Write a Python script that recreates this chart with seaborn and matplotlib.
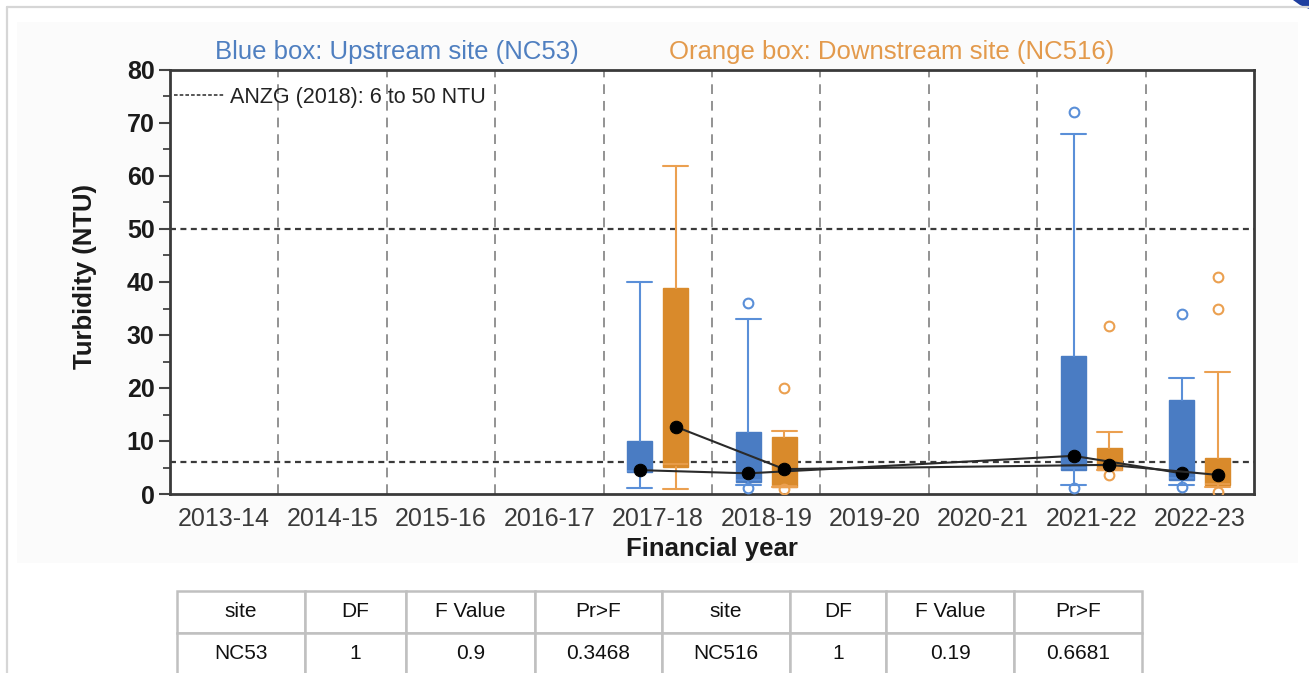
import matplotlib
matplotlib.use("Agg")
import matplotlib.pyplot as plt
import seaborn as sns
import numpy as np
import pandas as pd
from matplotlib.lines import Line2D
from matplotlib.patches import Rectangle, Polygon

# ---- data -------------------------------------------------------------
years = ["2013-14", "2014-15", "2015-16", "2016-17", "2017-18",
         "2018-19", "2019-20", "2020-21", "2021-22", "2022-23"]
sampled_years = ["2017-18", "2018-19", "2021-22", "2022-23"]

# Upstream site NC53 (blue)
nc53_whislo = [1.2, 1.7, 1.7, 1.7]
nc53_q1 = [4.2, 2.3, 4.5, 2.6]
nc53_med = [4.3, 2.6, 4.9, 3.0]
nc53_q3 = [10.0, 11.7, 26.0, 17.8]
nc53_whishi = [40.0, 33.0, 68.0, 21.9]
nc53_mean = [4.5, 3.9, 7.2, 3.9]
nc53_fliers = [[], [36.0, 1.2], [72.0, 1.2], [34.0, 1.4]]

# Downstream site NC516 (orange)
nc516_whislo = [1.0, 1.3, 4.5, 1.3]
nc516_q1 = [5.1, 1.3, 4.5, 1.7]
nc516_med = [5.6, 1.6, 4.9, 1.9]
nc516_q3 = [38.9, 10.8, 8.7, 6.8]
nc516_whishi = [61.9, 11.8, 11.7, 23.0]
nc516_mean = [12.7, 4.7, 5.5, 3.6]
nc516_fliers = [[], [20.0, 1.0], [31.7, 3.6], [41.0, 35.0, 0.3]]

guideline_low = 6
guideline_high = 50

table_header = ["site", "DF", "F Value", "Pr>F", "site", "DF", "F Value", "Pr>F"]
table_row = ["NC53", "1", "0.9", "0.3468", "NC516", "1", "0.19", "0.6681"]

# ---- style ------------------------------------------------------------
sns.set_theme(style="white")
plt.rcParams["font.family"] = ["Liberation Sans", "DejaVu Sans"]
plt.rcParams["lines.scale_dashes"] = False

BLUE_FILL = "#4a7cc3"
BLUE_LINE = "#5a8fd8"
ORANGE_FILL = "#d98a2b"
ORANGE_LINE = "#eba050"
W, H = 1309, 673

fig = plt.figure(figsize=(W / 100, H / 100), dpi=100)
fig.patch.set_facecolor("white")

# page decoration: light panel, frame lines and corner tab
fig.patches.append(Rectangle((17 / W, 1 - 563 / H), (1298 - 17) / W, (563 - 22) / H,
                             transform=fig.transFigure, facecolor="#fbfbfb",
                             edgecolor="none", zorder=-10))
fig.lines.append(Line2D([7 / W, 1], [1 - 7 / H, 1 - 7 / H], transform=fig.transFigure,
                        color="#d6d6d6", lw=1.6))
fig.lines.append(Line2D([7 / W, 7 / W], [0, 1 - 7 / H], transform=fig.transFigure,
                        color="#d6d6d6", lw=1.6))
fig.patches.append(Polygon([(1293 / W, 1), (1, 1), (1, 1 - 9 / H), (1300 / W, 1 - 5 / H)],
                           closed=True, transform=fig.transFigure,
                           facecolor="#1f3f9f", edgecolor="none"))

ax = fig.add_axes([170 / W, 1 - 494 / H, (1254 - 170) / W, (494 - 70) / H])
ax.set_facecolor("white")

idx = {y: i for i, y in enumerate(years)}
blue_pos = [idx[y] - 0.165 for y in sampled_years]
orange_pos = [idx[y] + 0.165 for y in sampled_years]


def make_stats(lo, q1, med, q3, hi, mean, fliers):
    return [dict(whislo=a, q1=b, med=c, q3=d, whishi=e, mean=f, fliers=g)
            for a, b, c, d, e, f, g in zip(lo, q1, med, q3, hi, mean, fliers)]


def draw_boxes(stats, pos, fill, line):
    ax.bxp(stats, positions=pos, widths=0.23, capwidths=0.23, patch_artist=True,
           manage_ticks=False, showmeans=False,
           boxprops=dict(facecolor=fill, edgecolor=fill, linewidth=1),
           whiskerprops=dict(color=line, linewidth=1.5),
           capprops=dict(color=line, linewidth=1.5),
           medianprops=dict(color=line, linewidth=1.2),
           flierprops=dict(marker="o", markerfacecolor="none", markeredgecolor=line,
                           markersize=7, markeredgewidth=1.5),
           zorder=3)


draw_boxes(make_stats(nc53_whislo, nc53_q1, nc53_med, nc53_q3, nc53_whishi,
                      nc53_mean, nc53_fliers), blue_pos, BLUE_FILL, BLUE_LINE)
draw_boxes(make_stats(nc516_whislo, nc516_q1, nc516_med, nc516_q3, nc516_whishi,
                      nc516_mean, nc516_fliers), orange_pos, ORANGE_FILL, ORANGE_LINE)

# mean markers joined across years for each site
means = pd.concat([
    pd.DataFrame({"pos": blue_pos, "mean": nc53_mean, "site": "NC53"}),
    pd.DataFrame({"pos": orange_pos, "mean": nc516_mean, "site": "NC516"}),
])
for site, grp in means.groupby("site", sort=False):
    sns.lineplot(data=grp, x="pos", y="mean", ax=ax, color="#2a2a2a", lw=1.5,
                 marker="o", markersize=9, markerfacecolor="black",
                 markeredgecolor="black", sort=False, legend=False, zorder=5)

# year separators and guideline levels
for b in np.arange(0.5, len(years) - 0.5, 1):
    ax.axvline(b, color="#8a8a8a", lw=1.3, dashes=(7, 5), zorder=1)
for g in (guideline_low, guideline_high):
    ax.axhline(g, color="#3a3a3a", lw=1.6, dashes=(4.3, 3.2), zorder=2)

ax.set_xlim(-0.5, len(years) - 0.5)
ax.set_ylim(0, 80)
ax.set_xticks(range(len(years)))
ax.set_xticklabels(years, fontsize=18, color="#3a3a3a")
ax.set_xticks(np.arange(0.5, len(years) - 0.5, 1), minor=True)
ax.set_yticks(np.arange(0, 81, 10))
ax.set_yticklabels([str(v) for v in range(0, 81, 10)], fontsize=18,
                   fontweight="bold", color="#1a1a1a")
ax.set_yticks(np.arange(5, 80, 10), minor=True)
ax.tick_params(axis="x", which="major", length=0, pad=9)
ax.tick_params(axis="x", which="minor", direction="in", length=6, width=1.3, color="#444")
ax.tick_params(axis="y", which="major", direction="out", length=8, width=1.5,
               color="#444", pad=3, left=True)
ax.tick_params(axis="y", which="minor", direction="out", length=5, width=1.3,
               color="#444", left=True)
for sp in ax.spines.values():
    sp.set_color("#3a3a3a")
    sp.set_linewidth(2)
    sp.set_visible(True)

ax.set_xlabel("Financial year", fontsize=18.5, fontweight="bold", color="#1a1a1a")
ax.set_ylabel("Turbidity (NTU)", fontsize=18.5, fontweight="bold", color="#1a1a1a")
ax.xaxis.label.set_va("center")
ax.yaxis.label.set_va("center")
ax.xaxis.set_label_coords(0.5, -0.13)
ax.yaxis.set_label_coords(-0.078, 0.514)

handle = Line2D([], [], color="#3a3a3a", lw=1.2, dashes=(2.6, 1.5))
ax.legend([handle], ["ANZG (2018): 6 to 50 NTU"], loc="center left",
          bbox_to_anchor=(0.0, 0.936), frameon=False, fontsize=15.5,
          handlelength=2.3, handletextpad=0.3, borderpad=0, borderaxespad=0.2,
          labelcolor="#222222")

fig.text(396.5 / W, 1 - 52 / H, "Blue box: Upstream site (NC53)", color="#4f7fc0",
         fontsize=18.5, ha="center", va="center")
fig.text(892 / W, 1 - 52 / H, "Orange box: Downstream site (NC516)", color="#e39a4c",
         fontsize=18.5, ha="center", va="center")

# ANOVA summary table under the chart
col_edges = [177, 305, 406, 535, 662, 790, 886, 1014, 1142]
col_w = np.diff(col_edges) / (col_edges[-1] - col_edges[0])
tax = fig.add_axes([177 / W, (H - 674) / H, (1142 - 177) / W, (674 - 591) / H])
tax.axis("off")
tbl = tax.table(cellText=[table_row], colLabels=table_header, colWidths=list(col_w),
                cellLoc="center", bbox=[0, 0, 1, 1])
tbl.auto_set_font_size(False)
for (r, c), cell in tbl.get_celld().items():
    cell.set_edgecolor("#c0c0c0")
    cell.set_linewidth(1.8)
    cell.set_facecolor("white")
    cell.get_text().set_fontsize(15)
    cell.get_text().set_color("#111111")

fig.savefig("out.png", dpi=100)
